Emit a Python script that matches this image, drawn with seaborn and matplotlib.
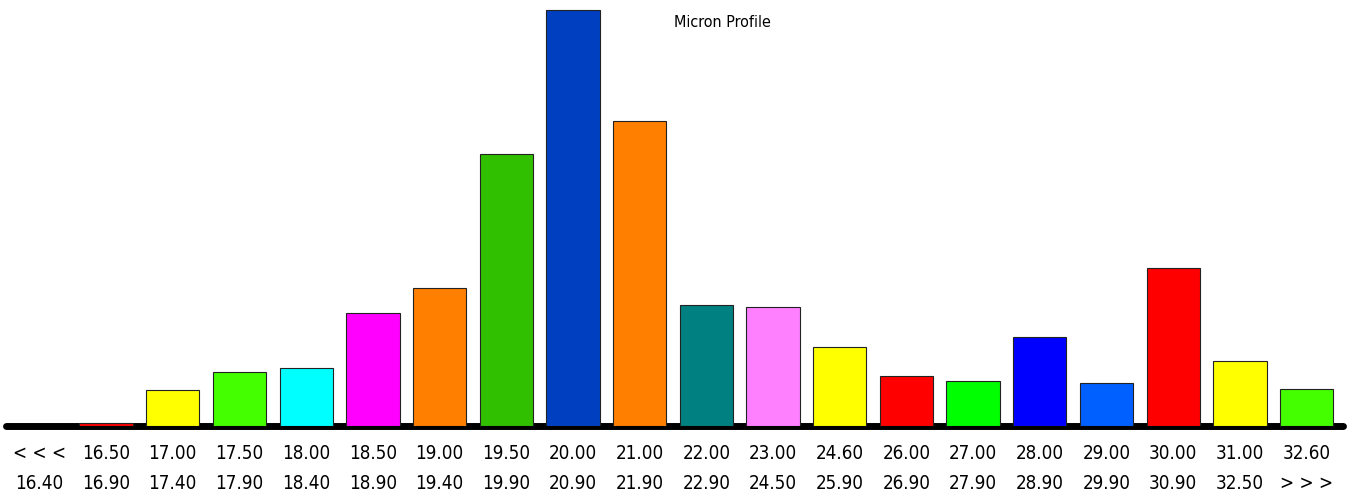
import pandas as pd
import matplotlib.pyplot as plt
import seaborn as sns

# Micron bands (lower / upper bound of each bin)
band_low = ["< < <", "16.50", "17.00", "17.50", "18.00", "18.50", "19.00", "19.50", "20.00", "21.00",
            "22.00", "23.00", "24.60", "26.00", "27.00", "28.00", "29.00", "30.00", "31.00", "32.60"]
band_high = ["16.40", "16.90", "17.40", "17.90", "18.40", "18.90", "19.40", "19.90", "20.90", "21.90",
             "22.90", "24.50", "25.90", "26.90", "27.90", "28.90", "29.90", "30.90", "32.50", "> > >"]
# Share of fibres in each band (%)
percent = [0.0, 0.15, 1.8, 2.7, 2.9, 5.65, 6.9, 13.6, 20.8, 15.25,
           6.05, 5.95, 3.95, 2.5, 2.25, 4.45, 2.15, 7.9, 3.25, 1.85]
bar_colors = ["#FF0000", "#FF0000", "#FFFF00", "#44FF00", "#00FFFF", "#FF00FF", "#FF8000", "#31C000",
              "#0040C0", "#FF8000", "#008080", "#FF80FF", "#FFFF00", "#FF0000", "#00FF00", "#0000FF",
              "#0060FF", "#FF0000", "#FFFF00", "#44FF00"]

labels = [f"{a}\n{b}" for a, b in zip(band_low, band_high)]
df = pd.DataFrame({"band": labels, "percent": percent})

sns.set_style("white")
plt.rcParams["font.family"] = ["DejaVu Sans"]
plt.rcParams["font.stretch"] = "condensed"

fig = plt.figure(figsize=(13.48, 4.93), dpi=100)
ax = fig.add_axes([0.0045, 0.136, 0.9895, 0.848])

sns.barplot(data=df, x="band", y="percent", hue="band", palette=bar_colors, legend=False,
            width=0.8, saturation=1, edgecolor="#222222", linewidth=0.8, ax=ax)
for p in ax.patches:
    p.set_zorder(3)

ax.set_xlim(-0.5, len(labels) - 0.5)
ax.set_ylim(0, max(percent) * 418 / 416)

# thick baseline, drawn behind the bars so tiny bars still show
ax.axhline(0, xmin=0, xmax=1.002, color="black", lw=5, solid_capstyle="round", clip_on=False, zorder=2)

ax.set_xlabel("")
ax.set_ylabel("")
ax.set_yticks([])
ax.tick_params(axis="x", length=0, pad=13, labelsize=13.5, labelcolor="black")
for t in ax.get_xticklabels():
    t.set_linespacing(1.75)
sns.despine(ax=ax, left=True, bottom=True)

ax.text(0.537, 0.983, "Micron Profile", transform=ax.transAxes, ha="center", va="top",
        fontsize=11.5, color="black")

fig.savefig("out.png", dpi=100)
